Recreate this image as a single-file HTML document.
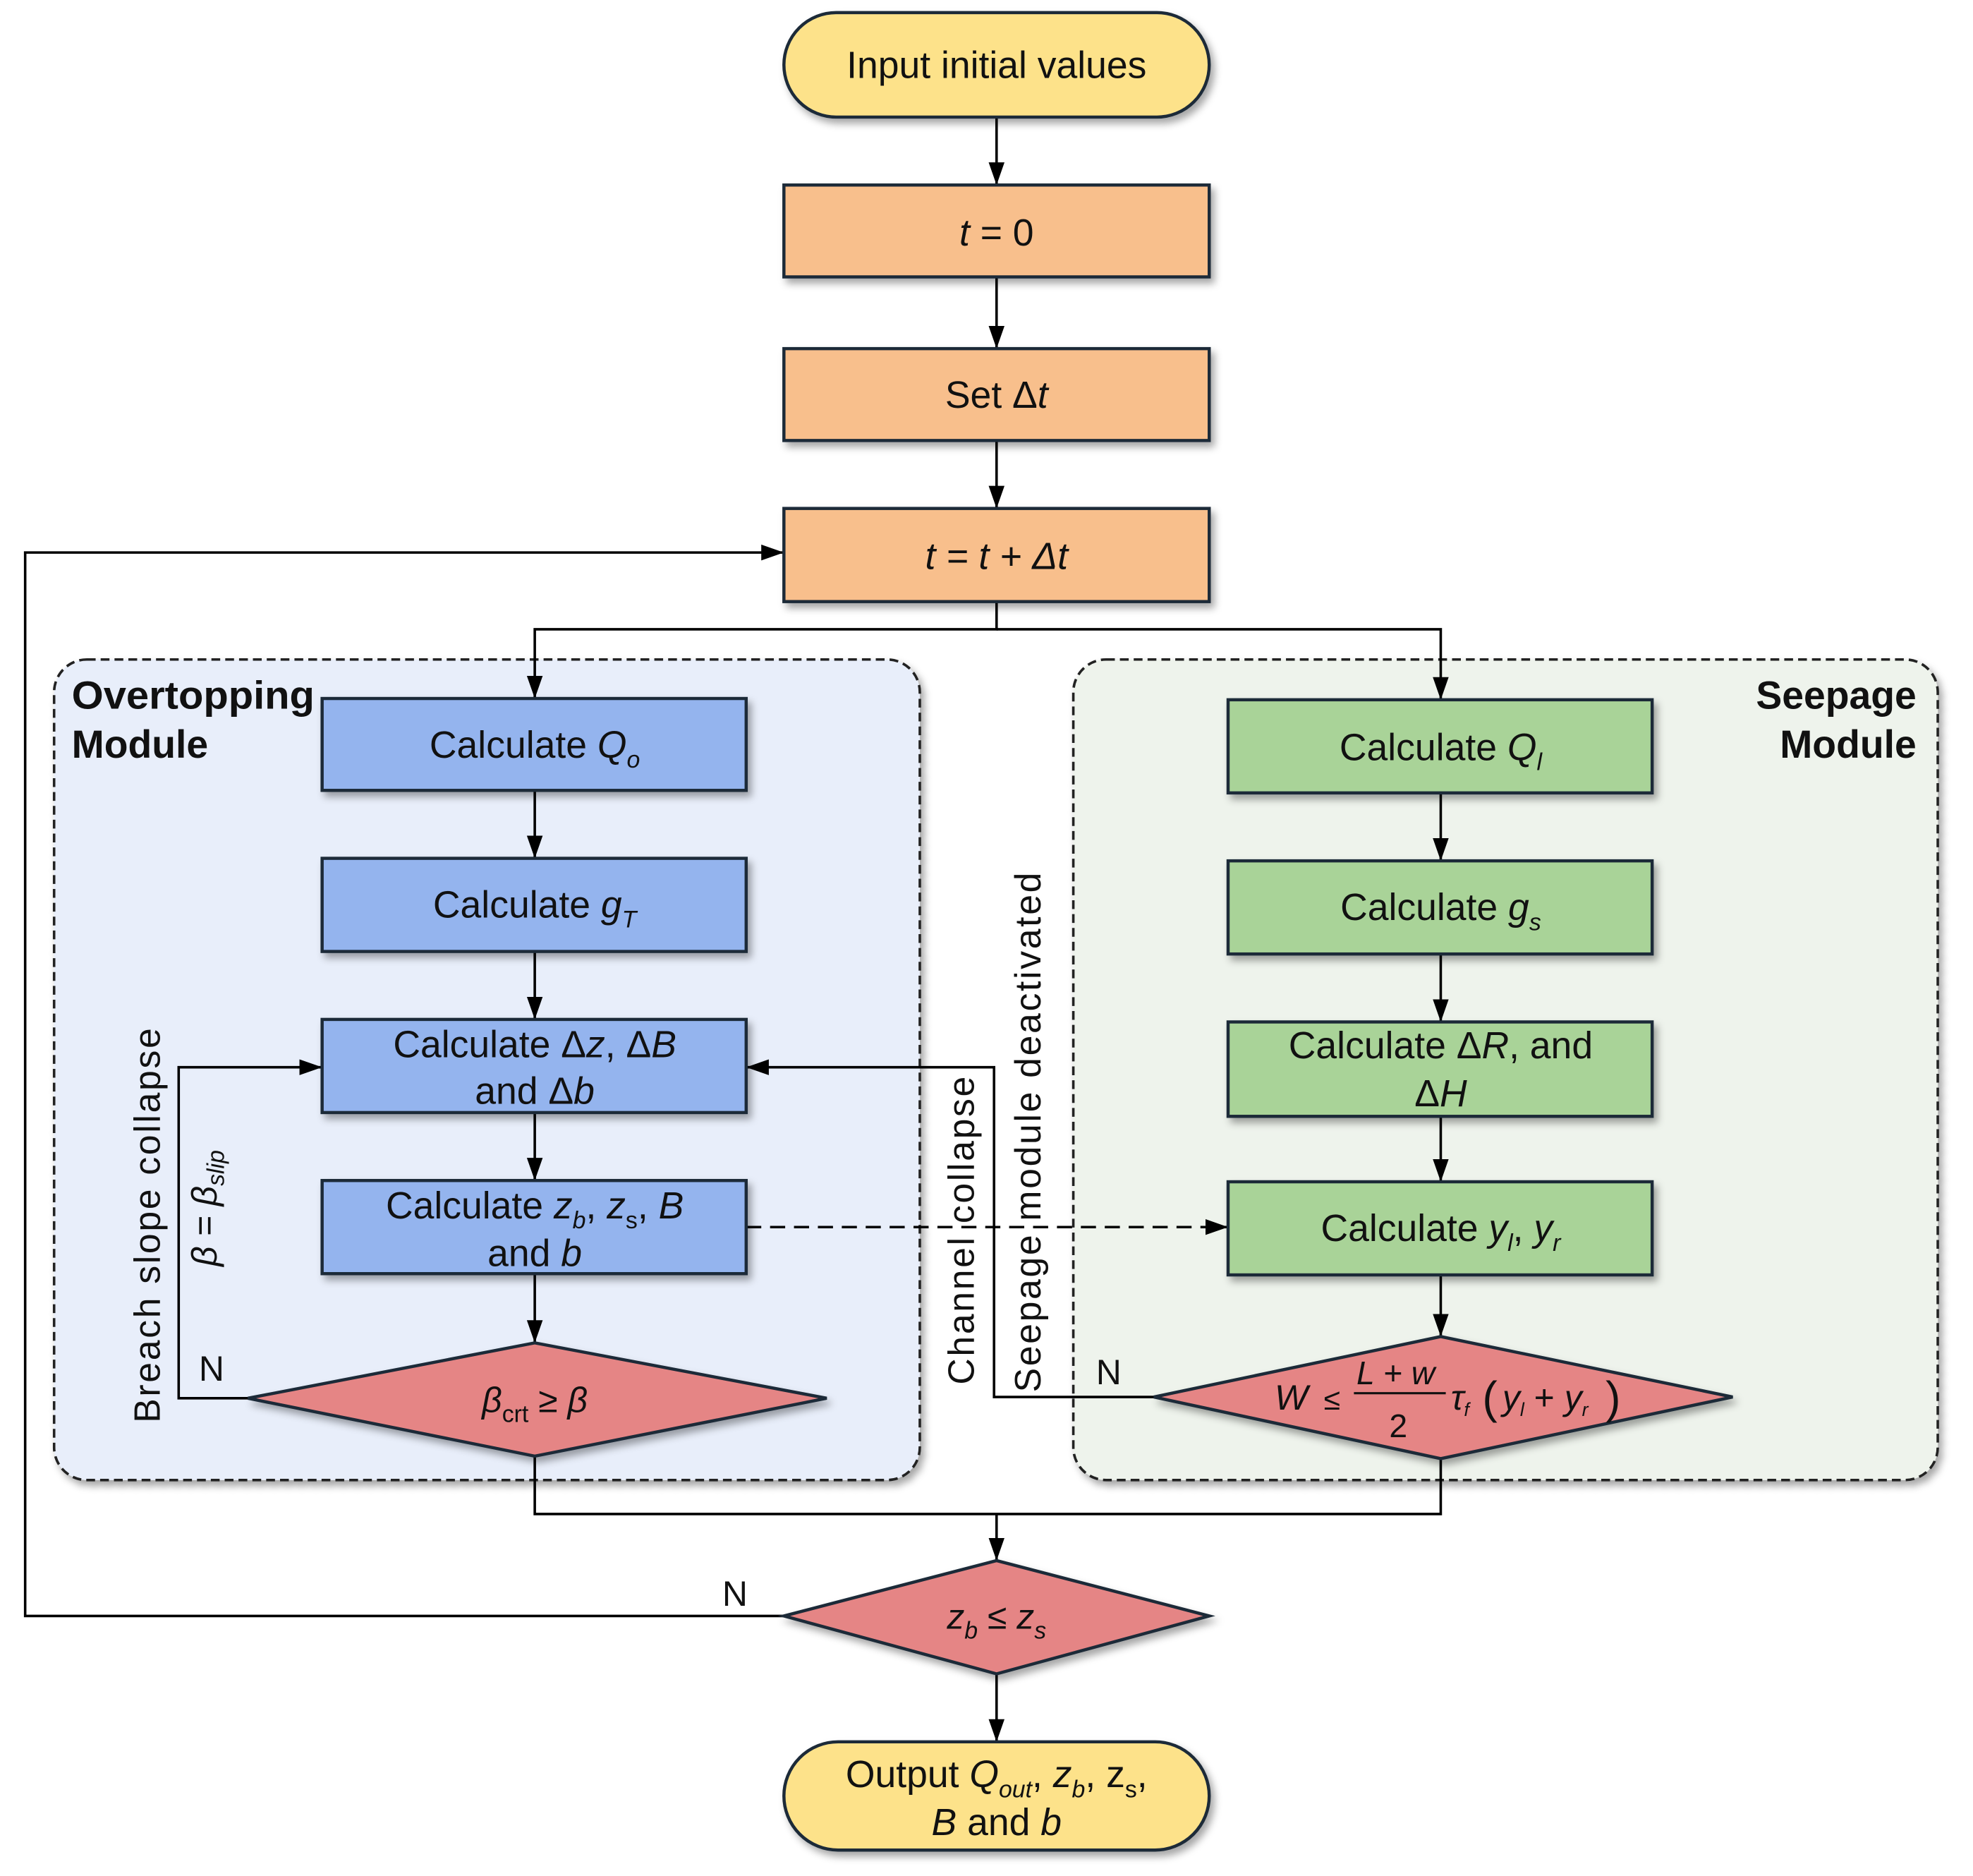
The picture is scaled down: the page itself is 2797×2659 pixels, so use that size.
<!DOCTYPE html>
<html><head><meta charset="utf-8"><style>
html,body{margin:0;padding:0;background:#fff;}
svg{display:block;}
text{font-family:"Liberation Sans",Arial,sans-serif;fill:#111;}
</style></head><body>
<svg width="2797" height="2659" viewBox="0 0 1568 1490.6" xmlns="http://www.w3.org/2000/svg">
<defs>
<filter id="sh" x="-10%" y="-10%" width="130%" height="140%">
<feDropShadow dx="3" dy="4" stdDeviation="3" flood-color="#000" flood-opacity="0.35"/>
</filter>
<marker id="ar2" viewBox="0 0 10 10" refX="10" refY="5" markerWidth="18" markerHeight="18" markerUnits="userSpaceOnUse" orient="auto">
<path d="M0,1.5 L10,5 L0,8.5 z" fill="#000"/>
</marker>
</defs>

<rect x="43" y="524" width="688" height="652" rx="26" fill="#e8eefa" stroke="#222" stroke-width="2" stroke-dasharray="7,4" filter="url(#sh)"/>
<rect x="853" y="524" width="687" height="652" rx="26" fill="#eef3ec" stroke="#222" stroke-width="2" stroke-dasharray="7,4" filter="url(#sh)"/>

<g stroke="#000" stroke-width="2" fill="none">
<line x1="792" y1="93" x2="792" y2="147" marker-end="url(#ar2)"/>
<line x1="792" y1="220" x2="792" y2="277" marker-end="url(#ar2)"/>
<line x1="792" y1="350" x2="792" y2="404" marker-end="url(#ar2)"/>
<polyline points="792,478 792,500 425,500 425,555" marker-end="url(#ar2)"/>
<polyline points="792,500 1145,500 1145,556" marker-end="url(#ar2)"/>
<line x1="425" y1="628" x2="425" y2="682" marker-end="url(#ar2)"/>
<line x1="425" y1="756" x2="425" y2="810" marker-end="url(#ar2)"/>
<line x1="425" y1="884" x2="425" y2="938" marker-end="url(#ar2)"/>
<line x1="425" y1="1012" x2="425" y2="1067" marker-end="url(#ar2)"/>
<line x1="1145" y1="630" x2="1145" y2="684" marker-end="url(#ar2)"/>
<line x1="1145" y1="758" x2="1145" y2="812" marker-end="url(#ar2)"/>
<line x1="1145" y1="887" x2="1145" y2="939" marker-end="url(#ar2)"/>
<line x1="1145" y1="1013" x2="1145" y2="1062" marker-end="url(#ar2)"/>
<polyline points="197,1111 142,1111 142,848 256,848" marker-end="url(#ar2)"/>
<polyline points="917,1110 790,1110 790,848 593,848" marker-end="url(#ar2)"/>
<line x1="593" y1="975" x2="976" y2="975" stroke-dasharray="12,7" marker-end="url(#ar2)"/>
<polyline points="425,1157 425,1203 1145,1203 1145,1159"/>
<line x1="792" y1="1203" x2="792" y2="1240" marker-end="url(#ar2)"/>
<line x1="792" y1="1330" x2="792" y2="1384" marker-end="url(#ar2)"/>
<polyline points="623,1284 20,1284 20,439 623,439" marker-end="url(#ar2)"/>
</g>

<g stroke="#1c2a38" stroke-width="2.5" filter="url(#sh)">
<rect x="623" y="10" width="338" height="83" rx="41.5" fill="#fde28a"/>
<rect x="623" y="147" width="338" height="73" fill="#f8bf8c"/>
<rect x="623" y="277" width="338" height="73" fill="#f8bf8c"/>
<rect x="623" y="404" width="338" height="74" fill="#f8bf8c"/>
<rect x="256" y="555" width="337" height="73" fill="#94b4ee"/>
<rect x="256" y="682" width="337" height="74" fill="#94b4ee"/>
<rect x="256" y="810" width="337" height="74" fill="#94b4ee"/>
<rect x="256" y="938" width="337" height="74" fill="#94b4ee"/>
<rect x="976" y="556" width="337" height="74" fill="#a9d398"/>
<rect x="976" y="684" width="337" height="74" fill="#a9d398"/>
<rect x="976" y="812" width="337" height="75" fill="#a9d398"/>
<rect x="976" y="939" width="337" height="74" fill="#a9d398"/>
<polygon points="197,1111 425,1067 657,1111 425,1157" fill="#e58585"/>
<polygon points="917,1110 1145,1062 1377,1110 1145,1159" fill="#e58585"/>
<polygon points="623,1284 792,1240 961,1284 792,1330" fill="#e58585"/>
<rect x="623" y="1384" width="338" height="86" rx="43" fill="#fde28a"/>
</g>

<g font-size="30" text-anchor="middle">
<text x="792" y="62">Input initial values</text>
<text x="792" y="195"><tspan font-style="italic">t</tspan> = 0</text>
<text x="792" y="324">Set Δ<tspan font-style="italic">t</tspan></text>
<text x="792" y="452" font-style="italic">t = t + Δt</text>
<text x="425" y="602">Calculate <tspan font-style="italic">Q</tspan><tspan font-style="italic" font-size="19" dy="8">o</tspan></text>
<text x="425" y="729">Calculate <tspan font-style="italic">g</tspan><tspan font-style="italic" font-size="19" dy="8">T</tspan></text>
<text x="425" y="840">Calculate Δ<tspan font-style="italic">z</tspan>, Δ<tspan font-style="italic">B</tspan></text>
<text x="425" y="877">and Δ<tspan font-style="italic">b</tspan></text>
<text x="425" y="968">Calculate <tspan font-style="italic">z</tspan><tspan font-style="italic" font-size="19" dy="8">b</tspan><tspan dy="-8">, </tspan><tspan font-style="italic">z</tspan><tspan font-size="19" dy="8">s</tspan><tspan dy="-8">, </tspan><tspan font-style="italic">B</tspan></text>
<text x="425" y="1006">and <tspan font-style="italic">b</tspan></text>
<text x="1145" y="604">Calculate <tspan font-style="italic">Q</tspan><tspan font-style="italic" font-size="19" dy="8">l</tspan></text>
<text x="1145" y="731">Calculate <tspan font-style="italic">g</tspan><tspan font-style="italic" font-size="19" dy="8">s</tspan></text>
<text x="1145" y="841">Calculate Δ<tspan font-style="italic">R</tspan>, and</text>
<text x="1145" y="879">Δ<tspan font-style="italic">H</tspan></text>
<text x="1145" y="986">Calculate <tspan font-style="italic">y</tspan><tspan font-style="italic" font-size="19" dy="8">l</tspan><tspan dy="-8">, </tspan><tspan font-style="italic">y</tspan><tspan font-style="italic" font-size="19" dy="8">r</tspan></text>
<text x="425" y="1122" font-size="28"><tspan font-style="italic">β</tspan><tspan font-size="19" dy="8">crt</tspan><tspan dy="-8"> ≥ </tspan><tspan font-style="italic">β</tspan></text>
<text x="792" y="1294" font-size="28"><tspan font-style="italic">z</tspan><tspan font-style="italic" font-size="19" dy="8">b</tspan><tspan dy="-8"> ≤ </tspan><tspan font-style="italic">z</tspan><tspan font-style="italic" font-size="19" dy="8">s</tspan></text>
<text x="792" y="1420">Output <tspan font-style="italic">Q</tspan><tspan font-style="italic" font-size="19" dy="8">out</tspan><tspan dy="-8">, </tspan><tspan font-style="italic">z</tspan><tspan font-style="italic" font-size="19" dy="8">b</tspan><tspan dy="-8">, </tspan><tspan>z</tspan><tspan font-size="19" dy="8">s</tspan><tspan dy="-8">,</tspan></text>
<text x="792" y="1458"><tspan font-style="italic">B</tspan> and <tspan font-style="italic">b</tspan></text>
</g>

<g font-size="28" font-style="italic">
<text x="1013" y="1120">W</text>
<text x="1052" y="1120" font-style="normal" font-size="24">≤</text>
<text x="1078" y="1100" font-size="26">L + w</text>
<line x1="1076" y1="1107" x2="1149" y2="1107" stroke="#111" stroke-width="1.8"/>
<text x="1104" y="1142" font-style="normal" font-size="26">2</text>
<text x="1153" y="1120">τ<tspan font-size="15" dy="5">f</tspan></text>
<text x="1178" y="1123" font-style="normal" font-size="36">(</text>
<text x="1194" y="1120">y<tspan font-size="15" dy="5">l</tspan><tspan font-style="normal" dy="-5"> + </tspan>y<tspan font-size="15" dy="5">r</tspan></text>
<text x="1276" y="1123" font-style="normal" font-size="36">)</text>
</g>

<g font-size="31" font-weight="bold">
<text x="57" y="563" textLength="193" lengthAdjust="spacingAndGlyphs">Overtopping</text>
<text x="57" y="602">Module</text>
<text x="1523" y="563" text-anchor="end">Seepage</text>
<text x="1523" y="602" text-anchor="end">Module</text>
</g>

<g font-size="29" text-anchor="middle" letter-spacing="1.5">
<text transform="translate(127,973) rotate(-90)">Breach slope collapse</text>
<text transform="translate(774,977) rotate(-90)">Channel collapse</text>
<text transform="translate(827,899) rotate(-90)">Seepage module deactivated</text>
</g>
<text transform="translate(172,960) rotate(-90)" font-size="28" text-anchor="middle" font-style="italic">β = β<tspan font-size="19" dy="6">slip</tspan></text>

<g font-size="28">
<text x="158" y="1097">N</text>
<text x="871" y="1100">N</text>
<text x="574" y="1276">N</text>
</g>
</svg>
</body></html>
